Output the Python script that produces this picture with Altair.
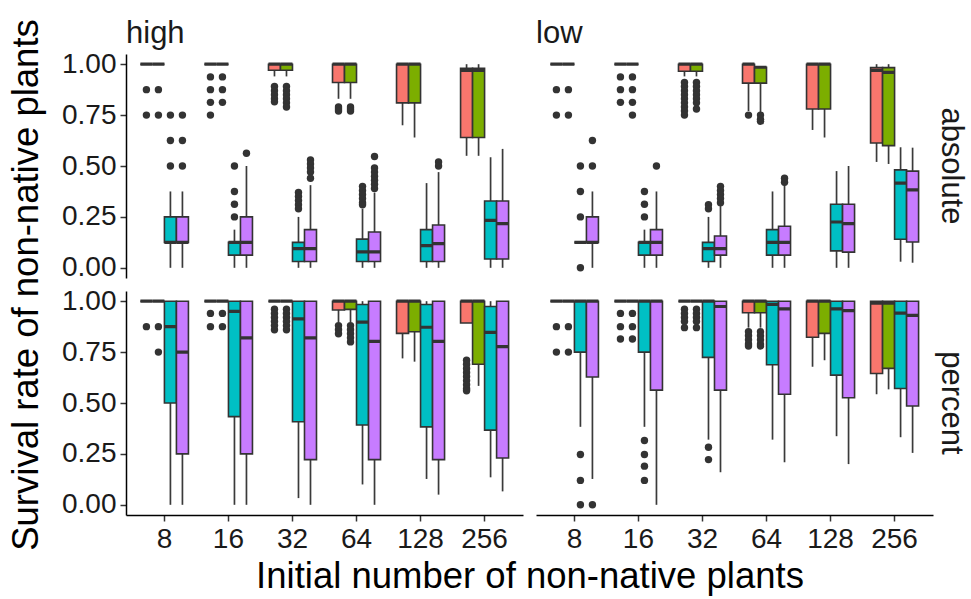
import altair as alt
import pandas as pd

SIZES = ["8", "16", "32", "64", "128", "256"]
GROUPS = ["group 1", "group 2", "group 3", "group 4"]
COLORS = ["#F8766D", "#7CAE00", "#00BFC4", "#C77CFF"]
DENSITIES = ["high", "low"]
MEASURES = ["absolute", "percent"]

# (lower whisker, q1, median, q3, upper whisker) for 8, 16, 32, 64, 128, 256
HIGH_ABS_G1 = [(1, 1, 1, 1, 1), (1, 1, 1, 1, 1), (0.94, 0.97, 1, 1, 1),
               (0.83, 0.91, 1, 1, 1), (0.70, 0.81, 1, 1, 1), (0.55, 0.64, 0.97, 0.98, 1)]
HIGH_ABS_G2 = [(1, 1, 1, 1, 1), (1, 1, 1, 1, 1), (0.94, 0.97, 1, 1, 1),
               (0.83, 0.91, 1, 1, 1), (0.64, 0.81, 1, 1, 1), (0.55, 0.64, 0.97, 0.98, 1)]
HIGH_ABS_G3 = [(0, 0.125, 0.125, 0.25, 0.375), (0, 0.0625, 0.125, 0.125, 0.1875),
               (0, 0.031, 0.094, 0.125, 0.25), (0, 0.031, 0.078, 0.141, 0.29),
               (0, 0.031, 0.109, 0.1875, 0.416), (0, 0.043, 0.233, 0.328, 0.543)]
HIGH_ABS_G4 = [(0, 0.125, 0.125, 0.25, 0.375), (0, 0.0625, 0.125, 0.25, 0.5),
               (0, 0.031, 0.094, 0.1875, 0.406), (0, 0.031, 0.078, 0.176, 0.37),
               (0, 0.031, 0.119, 0.21, 0.47), (0, 0.043, 0.217, 0.328, 0.584)]

LOW_ABS_G1 = [(1, 1, 1, 1, 1), (1, 1, 1, 1, 1), (0.94, 0.965, 1, 1, 1),
              (0.77, 0.907, 1, 1, 1), (0.677, 0.78, 1, 1, 1), (0.52, 0.613, 0.97, 0.983, 1)]
LOW_ABS_G2 = [(1, 1, 1, 1, 1), (1, 1, 1, 1, 1), (0.94, 0.965, 1, 1, 1),
              (0.76, 0.907, 0.985, 0.985, 0.985), (0.64, 0.78, 1, 1, 1), (0.51, 0.60, 0.96, 0.983, 1)]
LOW_ABS_G3 = [(0.125, 0.125, 0.125, 0.125, 0.125), (0, 0.0625, 0.125, 0.125, 0.1875),
              (0, 0.031, 0.094, 0.125, 0.25), (0, 0.0625, 0.125, 0.1875, 0.375),
              (0, 0.083, 0.225, 0.312, 0.475), (0.03, 0.14, 0.416, 0.481, 0.592)]
LOW_ABS_G4 = [(0, 0.125, 0.125, 0.25, 0.375), (0, 0.0625, 0.125, 0.1875, 0.375),
              (0, 0.0625, 0.094, 0.156, 0.3125), (0, 0.0625, 0.125, 0.204, 0.41),
              (0, 0.077, 0.217, 0.312, 0.5), (0.025, 0.127, 0.383, 0.475, 0.59)]

HIGH_PCT_G1 = [(1, 1, 1, 1, 1), (1, 1, 1, 1, 1), (1, 1, 1, 1, 1),
               (0.897, 0.957, 1, 1, 1), (0.719, 0.842, 1, 1, 1), (0.893, 0.893, 1, 1, 1)]
HIGH_PCT_G2 = [(1, 1, 1, 1, 1), (1, 1, 1, 1, 1), (1, 1, 1, 1, 1),
               (0.897, 0.96, 1, 1, 1), (0.703, 0.85, 1, 1, 1), (0.584, 0.69, 1, 1, 1)]
HIGH_PCT_G3 = [(0, 0.5, 0.875, 1, 1), (0, 0.433, 0.95, 1, 1), (0.033, 0.408, 0.913, 1, 1),
               (0.1, 0.392, 0.897, 0.984, 1), (0.127, 0.383, 0.872, 0.984, 1),
               (0.135, 0.367, 0.847, 0.974, 1)]
HIGH_PCT_G4 = [(0, 0.25, 0.75, 1, 1), (0, 0.25, 0.82, 1, 1), (0, 0.222, 0.82, 1, 1),
               (0, 0.222, 0.803, 1, 1), (0.05, 0.222, 0.803, 1, 1), (0.066, 0.23, 0.777, 1, 1)]

LOW_PCT_G1 = [(1, 1, 1, 1, 1), (1, 1, 1, 1, 1), (1, 1, 1, 1, 1),
              (0.87, 0.943, 1, 1, 1), (0.678, 0.823, 1, 1, 1), (0.543, 0.645, 0.99, 1, 1)]
LOW_PCT_G2 = [(1, 1, 1, 1, 1), (1, 1, 1, 1, 1), (1, 1, 1, 1, 1),
              (0.87, 0.943, 1, 1, 1), (0.71, 0.842, 1, 1, 1), (0.567, 0.67, 0.99, 1, 1)]
LOW_PCT_G3 = [(0.383, 0.75, 1, 1, 1), (0.383, 0.75, 1, 1, 1), (0.32, 0.724, 1, 1, 1),
              (0.32, 0.688, 0.984, 1, 1), (0.337, 0.637, 0.962, 1, 1), (0.332, 0.571, 0.941, 1, 1)]
LOW_PCT_G4 = [(0.127, 0.628, 1, 1, 1), (0, 0.563, 1, 1, 1), (0.16, 0.563, 0.974, 1, 1),
              (0.209, 0.543, 0.962, 1, 1), (0.2, 0.526, 0.954, 1, 1), (0.255, 0.485, 0.93, 1, 1)]

# outliers: (initial number, group index, values)
HIGH_ABS_OUT = [("8", 0, [0.875, 0.75]), ("8", 1, [0.875, 0.75]),
                ("8", 2, [0.75, 0.625, 0.5]), ("8", 3, [0.75, 0.625, 0.5]),
                ("16", 0, [0.9375, 0.875, 0.8125, 0.75]), ("16", 1, [0.9375, 0.875, 0.8125]),
                ("16", 2, [0.5, 0.375, 0.3125, 0.25]), ("16", 3, [0.5625]),
                ("32", 0, [0.89, 0.87, 0.85, 0.83, 0.815]),
                ("32", 1, [0.89, 0.87, 0.85, 0.83, 0.81, 0.79]),
                ("32", 2, [0.37, 0.35, 0.33, 0.31, 0.29]),
                ("32", 3, [0.53, 0.51, 0.49, 0.47, 0.44]),
                ("64", 0, [0.79, 0.78, 0.77]), ("64", 1, [0.79, 0.78, 0.77]),
                ("64", 2, [0.40, 0.38, 0.36, 0.34, 0.32, 0.31]),
                ("64", 3, [0.547, 0.49, 0.47, 0.45, 0.43, 0.41, 0.39]),
                ("128", 3, [0.52, 0.50])]
LOW_ABS_OUT = [("8", 0, [0.875, 0.75]), ("8", 1, [0.875, 0.75]),
               ("8", 2, [0.5, 0.375, 0.25, 0.0]), ("8", 3, [0.625, 0.5]),
               ("16", 0, [0.9375, 0.875, 0.8125]), ("16", 1, [0.9375, 0.875, 0.8125, 0.75]),
               ("16", 2, [0.375, 0.3125, 0.25]), ("16", 3, [0.5]),
               ("32", 0, [0.91, 0.89, 0.87, 0.85, 0.83, 0.81, 0.79, 0.77, 0.75]),
               ("32", 1, [0.91, 0.89, 0.87, 0.85, 0.83, 0.81, 0.78]),
               ("32", 2, [0.31, 0.29]), ("32", 3, [0.40, 0.38, 0.36, 0.34, 0.32]),
               ("64", 0, [0.75]), ("64", 1, [0.75, 0.73, 0.72]), ("64", 3, [0.44, 0.42])]
HIGH_PCT_OUT = [("8", 0, [0.875]), ("8", 1, [0.875, 0.75]),
                ("16", 0, [0.94, 0.875]), ("16", 1, [0.94, 0.875]),
                ("32", 0, [0.96, 0.94, 0.92, 0.90, 0.88, 0.86]),
                ("32", 1, [0.96, 0.94, 0.92, 0.90, 0.88, 0.86]),
                ("64", 0, [0.88, 0.86, 0.84]), ("64", 1, [0.88, 0.86, 0.84, 0.82, 0.80]),
                ("256", 0, [0.71, 0.69, 0.67, 0.65, 0.63, 0.61, 0.59, 0.57, 0.56])]
LOW_PCT_OUT = [("8", 0, [0.875, 0.75]), ("8", 1, [0.875, 0.75]),
               ("8", 2, [0.247, 0.12, 0.0]), ("8", 3, [0.0]),
               ("16", 0, [0.94, 0.875, 0.814]), ("16", 1, [0.94, 0.875, 0.814]),
               ("16", 2, [0.316, 0.247, 0.19, 0.12]),
               ("32", 0, [0.96, 0.94, 0.92, 0.90, 0.87]), ("32", 1, [0.96, 0.94, 0.92, 0.90, 0.87]),
               ("32", 2, [0.283, 0.222]),
               ("64", 0, [0.85, 0.83, 0.81, 0.79, 0.78]), ("64", 1, [0.85, 0.83, 0.81, 0.79, 0.78])]

BOXES = {
    ("high", "absolute"): [HIGH_ABS_G1, HIGH_ABS_G2, HIGH_ABS_G3, HIGH_ABS_G4],
    ("low", "absolute"): [LOW_ABS_G1, LOW_ABS_G2, LOW_ABS_G3, LOW_ABS_G4],
    ("high", "percent"): [HIGH_PCT_G1, HIGH_PCT_G2, HIGH_PCT_G3, HIGH_PCT_G4],
    ("low", "percent"): [LOW_PCT_G1, LOW_PCT_G2, LOW_PCT_G3, LOW_PCT_G4],
}
OUTLIERS = {
    ("high", "absolute"): HIGH_ABS_OUT, ("low", "absolute"): LOW_ABS_OUT,
    ("high", "percent"): HIGH_PCT_OUT, ("low", "percent"): LOW_PCT_OUT,
}

rows = []
for (dens, meas), series in BOXES.items():
    for gi, stats in enumerate(series):
        for n, (lo, q1, med, q3, hi) in zip(SIZES, stats):
            rows.append(dict(kind="box", density=dens, measure=meas, n=n, grp=GROUPS[gi],
                             lo=lo, q1=q1, med=med, q3=q3, hi=hi))
for (dens, meas), outs in OUTLIERS.items():
    for n, gi, vals in outs:
        for v in vals:
            rows.append(dict(kind="out", density=dens, measure=meas, n=n, grp=GROUPS[gi], val=v))
df = pd.DataFrame(rows)

FONT = "Liberation Sans"
yaxis = alt.Axis(values=[0, 0.25, 0.5, 0.75, 1], format=".2f", title=None)
yscale = alt.Scale(domain=[-0.05, 1.05], nice=False, zero=False)
xenc = alt.X("n:N", sort=SIZES, title=None,
             scale=alt.Scale(type="band", paddingInner=0.25, paddingOuter=0.225),
             axis=alt.Axis(labelAngle=0, labelPadding=4))
xoff = alt.XOffset("grp:N", sort=GROUPS,
                   scale=alt.Scale(domain=GROUPS, paddingInner=0, paddingOuter=0))
color = alt.Color("grp:N", scale=alt.Scale(domain=GROUPS, range=COLORS), legend=None)

base = alt.Chart()
whisk = base.mark_rule(color="#3a3a3a", strokeWidth=1.7).encode(
    x=xenc, xOffset=xoff,
    y=alt.Y("lo:Q", scale=yscale, axis=yaxis), y2="hi:Q",
).transform_filter(alt.datum.kind == "box")
box = base.mark_bar(stroke="#333333", strokeWidth=1.6, opacity=1).encode(
    x=xenc, xOffset=xoff,
    y=alt.Y("q1:Q", scale=yscale, axis=yaxis), y2="q3:Q",
    color=color,
).transform_filter(alt.datum.kind == "box")
median = base.mark_bar(stroke="#333333", strokeWidth=3.2, fill="#333333").encode(
    x=xenc, xOffset=xoff,
    y=alt.Y("med:Q", scale=yscale, axis=yaxis), y2="med:Q",
).transform_filter(alt.datum.kind == "box")
outl = base.mark_circle(color="#333333", size=55, opacity=1).encode(
    x=xenc, xOffset=xoff,
    y=alt.Y("val:Q", scale=yscale, axis=yaxis),
).transform_filter(alt.datum.kind == "out")

layered = alt.layer(whisk, box, median, outl, data=df).properties(width=397, height=224)

chart = layered.facet(
    row=alt.Row("measure:N", sort=MEASURES, title="Survival rate of non-native plants",
                header=alt.Header(labelOrient="right", labelAngle=90, labelFontSize=31,
                                  labelFont=FONT, labelColor="#1a1a1a", labelPadding=2,
                                  titleOrient="left", titleFontSize=36.5, titleFont=FONT,
                                  titleFontWeight="normal", titleColor="#000000",
                                  titlePadding=6)),
    column=alt.Column("density:N", sort=DENSITIES, title="Initial number of non-native plants",
                      header=alt.Header(labelOrient="top", labelAnchor="start", labelFontSize=31,
                                        labelFont=FONT, labelColor="#1a1a1a", labelPadding=4,
                                        titleOrient="bottom", titleFontSize=36.5, titleFont=FONT,
                                        titleFontWeight="normal", titleColor="#000000",
                                        titlePadding=-4)),
    spacing={"row": 13, "column": 13},
).configure_view(stroke=None).configure_axis(
    labelFont=FONT, labelFontSize=28,
    labelColor="#1a1a1a",
    domainColor="#000000", domainWidth=1.5, tickColor="#333333", tickWidth=1.5,
    tickSize=6, labelPadding=4, grid=False,
).properties(padding={"left": 8, "top": 18, "right": 2, "bottom": 2})

chart.save("out.html", embed_options={"renderer": "svg", "actions": False})
